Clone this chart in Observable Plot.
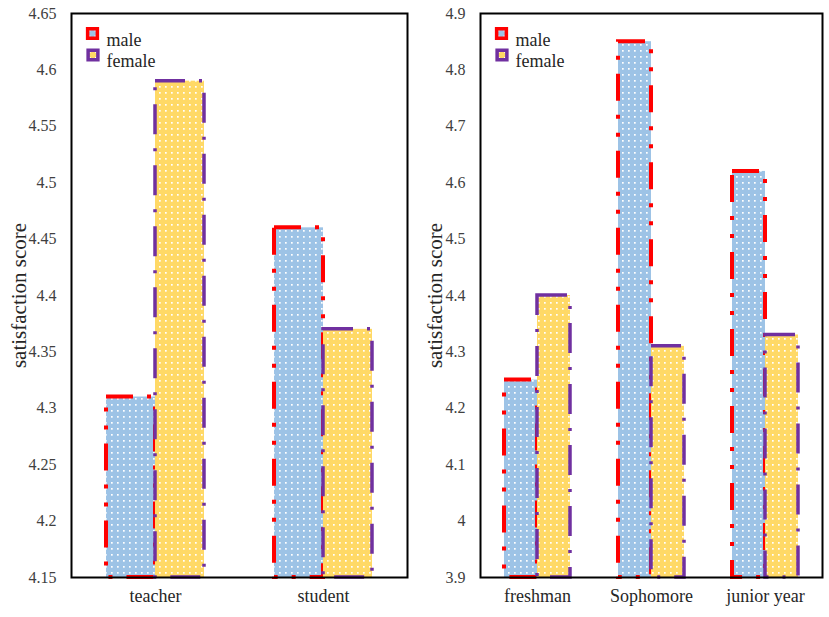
<!DOCTYPE html>
<html><head><meta charset="utf-8">
<script src="https://cdn.jsdelivr.net/npm/d3@7"></script>
<script src="https://cdn.jsdelivr.net/npm/@observablehq/plot@0.6"></script>
<style>
body{margin:0;background:#fff;}
#wrap{display:flex;width:829px;height:617px;}
#wrap svg, #wrap svg text{font-family:"Liberation Serif","Times New Roman",serif !important;}
</style></head><body>
<svg width="0" height="0" style="position:absolute">
  <defs>
    <pattern id="pBlue" patternUnits="userSpaceOnUse" width="6" height="6">
      <rect width="6" height="6" fill="#9DC3E6"></rect>
      <rect x="2" y="2" width="1.7" height="1.7" fill="#ffffff"></rect>
    </pattern>
    <pattern id="pYellow" patternUnits="userSpaceOnUse" width="6" height="6">
      <rect width="6" height="6" fill="#FFD966"></rect>
      <rect x="2" y="2" width="1.7" height="1.7" fill="#ffffff"></rect>
    </pattern>
  </defs>
</svg>
<div id="wrap"></div>
<script>
const genders = ["male", "female"];
const roles = ["teacher", "student"];
const roleMale = [4.31, 4.46];
const roleFemale = [4.59, 4.37];
const grades = ["freshman", "Sophomore", "junior year"];
const gradeMale = [4.25, 4.85, 4.62];
const gradeFemale = [4.40, 4.31, 4.33];
const leftTicks = [4.15, 4.2, 4.25, 4.3, 4.35, 4.4, 4.45, 4.5, 4.55, 4.6, 4.65];
const rightTicks = [3.9, 4, 4.1, 4.2, 4.3, 4.4, 4.5, 4.6, 4.7, 4.8, 4.9];
const yLabel = "satisfaction score";

const RED = "#FF0000", PURPLE = "#7030A0";
const FONT = "Liberation Serif, Times New Roman, serif";

function panel({cats, male, female, ticks, width, marginLeft, marginRight, labelOffset, xPad}) {
  const maleData = cats.map((c, i) => ({cat: c, gender: "male", value: male[i]}));
  const femaleData = cats.map((c, i) => ({cat: c, gender: "female", value: female[i]}));
  const ymin = ticks[0], ymax = ticks[ticks.length - 1];
  const legend = [
    {g: "male", fill: "url(#pBlue)", stroke: RED},
    {g: "female", fill: "url(#pYellow)", stroke: PURPLE}
  ];
  return Plot.plot({
    width, height: 617,
    marginLeft, marginRight, marginTop: 13, marginBottom: 40,
    style: {fontFamily: FONT, fontSize: "18px", color: "#262626", background: "#fff"},
    fx: {domain: cats, padding: 0, label: null},
    x: {domain: genders, paddingInner: 0, paddingOuter: xPad, axis: null},
    y: {domain: [ymin, ymax]},
    marks: [
      Plot.barY(maleData, {fx: "cat", x: "gender", y1: ymin, y2: "value",
        fill: "url(#pBlue)", stroke: RED, strokeWidth: 4, strokeDasharray: "27,14,4,14,4,14"}),
      Plot.barY(femaleData, {fx: "cat", x: "gender", y1: ymin, y2: "value",
        fill: "url(#pYellow)", stroke: PURPLE, strokeWidth: 3.5, strokeDasharray: "30,14,3,14"}),
      Plot.axisY({ticks, tickSize: 0, tickPadding: 15, tickFormat: d => `${d}`,
        label: null, fill: "#404040", fontSize: 16, fontFamily: FONT}),
      Plot.axisY({ticks: [], tickSize: 0, label: yLabel, labelAnchor: "center", labelOffset,
        labelArrow: "none", fill: "#262626", fontSize: 21, fontFamily: FONT}),
      Plot.axisFx({anchor: "bottom", tickSize: 0, tickPadding: 12, label: null,
        fill: "#262626", fontSize: 18, fontFamily: FONT}),
      Plot.frame({facet: "super", stroke: "#000", strokeWidth: 2}),
      Plot.dot([legend[0]], {facet: "super", frameAnchor: "top-left", dx: 21, dy: 20, symbol: "square", r: 5.5,
        fill: legend[0].fill, stroke: legend[0].stroke, strokeWidth: 3.5}),
      Plot.dot([legend[1]], {facet: "super", frameAnchor: "top-left", dx: 21.5, dy: 41.5, symbol: "square", r: 5.5,
        fill: legend[1].fill, stroke: legend[1].stroke, strokeWidth: 3.5}),
      Plot.text([legend[0]], {facet: "super", frameAnchor: "top-left", dx: 35, dy: 20, text: "g",
        textAnchor: "start", fill: "#262626", fontSize: 18, fontFamily: FONT}),
      Plot.text([legend[1]], {facet: "super", frameAnchor: "top-left", dx: 35, dy: 41, text: "g",
        textAnchor: "start", fill: "#262626", fontSize: 18, fontFamily: FONT})
    ]
  });
}

const wrap = document.getElementById("wrap");
wrap.appendChild(panel({cats: roles, male: roleMale, female: roleFemale, ticks: leftTicks,
  width: 415, marginLeft: 70, marginRight: 8, labelOffset: 60, xPad: 0.685}));
wrap.appendChild(panel({cats: grades, male: gradeMale, female: gradeFemale, ticks: rightTicks,
  width: 414, marginLeft: 64, marginRight: 7, labelOffset: 53, xPad: 0.705}));
</script>
</body></html>
